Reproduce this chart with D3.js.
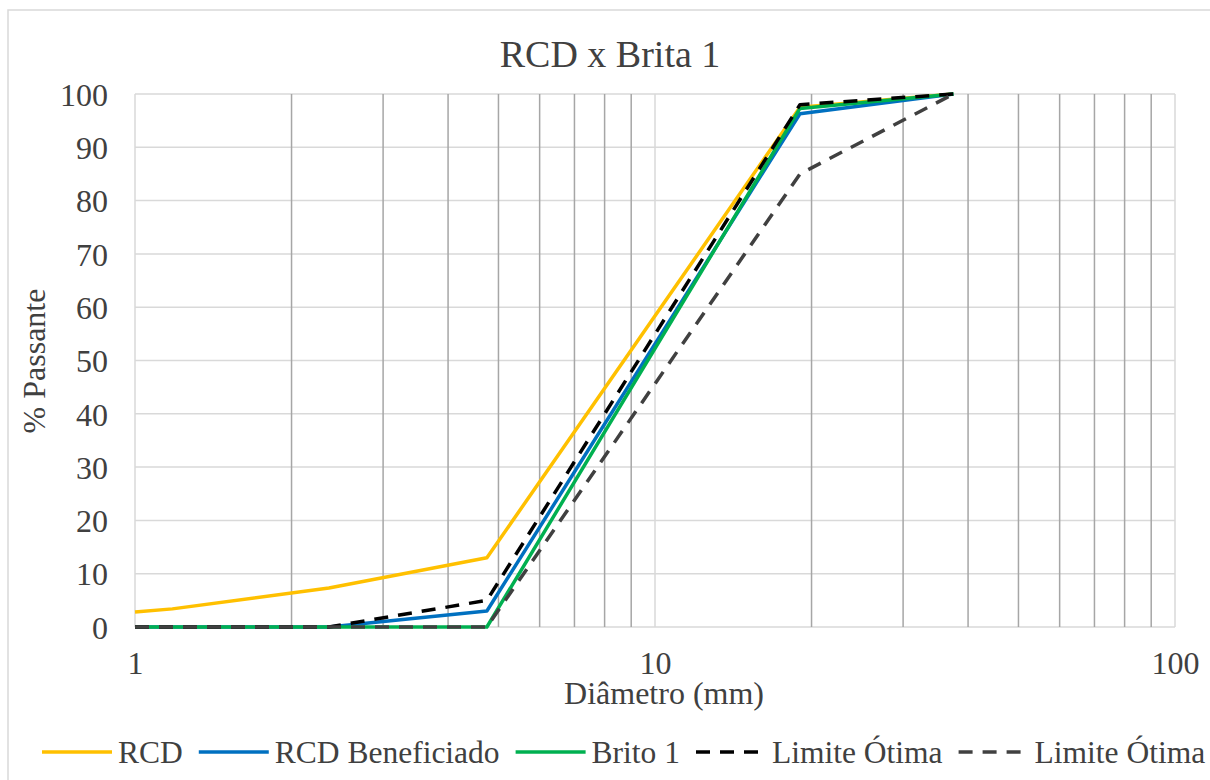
<!DOCTYPE html>
<html>
<head>
<meta charset="utf-8">
<script src="https://cdn.jsdelivr.net/npm/d3@7"></script>
<style>
  body { margin: 0; background: #fff; }
  #chart text { font-family: "Liberation Serif", "Times New Roman", serif; }
</style>
</head>
<body>
<svg id="chart" width="1210" height="780"></svg>
<script>
// sieve sizes (mm) and % passing
const diametros = [1, 1.18, 2.36, 4.75, 19, 37.5]
const rcd = [2.8, 3.4, 7.3, 13, 97.5, 100]
const rcdBeneficiado = [0, 0, 0, 3, 96.3, 100]
const brito1 = [0, 0, 0, 0, 97.3, 100]
const limiteSup = [0, 0, 0, 5, 98, 100]
const limiteInf = [0, 0, 0, 0, 85, 100]

const xTicks = [1, 10, 100]
const xMinor = [2, 3, 4, 5, 6, 7, 8, 9, 20, 30, 40, 50, 60, 70, 80, 90]
const yTicks = [0, 10, 20, 30, 40, 50, 60, 70, 80, 90, 100]

const series = [
  { name: 'RCD', values: rcd, color: '#FFC000', dash: null },
  { name: 'RCD Beneficiado', values: rcdBeneficiado, color: '#0070C0', dash: null },
  { name: 'Brito 1', values: brito1, color: '#00B050', dash: null },
  { name: 'Limite Ótima', values: limiteSup, color: '#000000', dash: '14,10' },
  { name: 'Limite Ótima', values: limiteInf, color: '#404040', dash: '14,10' }
]

const FONT = 'Liberation Serif'
const textColor = '#404040'

const svg = d3.select('#chart')

// chart frame
svg.append('rect')
  .attr('x', 8).attr('y', 10)
  .attr('width', 1210).attr('height', 780)
  .attr('fill', 'none')
  .attr('stroke', '#d9d9d9')
  .attr('stroke-width', 1.5)

const xScale = d3.scaleLog().domain([1, 100]).range([135, 1175])
const yScale = d3.scaleLinear().domain([0, 100]).range([627, 94])

const grid = svg.append('g')

grid.selectAll('.hgrid')
  .data(yTicks)
  .join('line')
  .attr('class', 'hgrid')
  .attr('x1', xScale(1)).attr('x2', xScale(100))
  .attr('y1', d => yScale(d)).attr('y2', d => yScale(d))
  .attr('stroke', '#d9d9d9')
  .attr('stroke-width', 1.5)

grid.selectAll('.vminor')
  .data(xMinor)
  .join('line')
  .attr('class', 'vminor')
  .attr('x1', d => xScale(d)).attr('x2', d => xScale(d))
  .attr('y1', yScale(0)).attr('y2', yScale(100))
  .attr('stroke', '#a6a6a6')
  .attr('stroke-width', 1.5)

grid.selectAll('.vmajor')
  .data(xTicks)
  .join('line')
  .attr('class', 'vmajor')
  .attr('x1', d => xScale(d)).attr('x2', d => xScale(d))
  .attr('y1', yScale(0)).attr('y2', yScale(100))
  .attr('stroke', '#d9d9d9')
  .attr('stroke-width', 1.5)

// axes
const xAxis = d3.axisBottom(xScale)
  .tickValues(xTicks)
  .tickSize(0)
  .tickPadding(0)
  .tickFormat(d3.format('d'))

const gx = svg.append('g')
  .attr('transform', 'translate(0,652)')
  .call(xAxis)
  .attr('font-family', FONT)
gx.select('.domain').remove()
gx.selectAll('text')
  .attr('fill', textColor)
  .attr('font-size', 32)
  .attr('dy', '0.68em')

const yAxis = d3.axisLeft(yScale)
  .tickValues(yTicks)
  .tickSize(0)
  .tickPadding(27)

const gy = svg.append('g')
  .attr('transform', `translate(${xScale(1)},0)`)
  .call(yAxis)
  .attr('font-family', FONT)
gy.select('.domain').remove()
gy.selectAll('text')
  .attr('fill', textColor)
  .attr('font-size', 32)
  .attr('dy', '0.35em')

// series lines
const line = d3.line()
  .x(d => xScale(d[0]))
  .y(d => yScale(d[1]))

svg.append('g')
  .selectAll('path')
  .data(series)
  .join('path')
  .attr('d', s => line(diametros.map((x, i) => [x, s.values[i]])))
  .attr('fill', 'none')
  .attr('stroke', s => s.color)
  .attr('stroke-width', 3.5)
  .attr('stroke-linejoin', 'round')
  .attr('stroke-dasharray', s => s.dash)

// titles
svg.append('text')
  .attr('x', 610).attr('y', 67)
  .attr('text-anchor', 'middle')
  .attr('font-size', 38)
  .attr('fill', textColor)
  .text('RCD x Brita 1')

svg.append('text')
  .attr('x', 664).attr('y', 704)
  .attr('text-anchor', 'middle')
  .attr('font-size', 32)
  .attr('fill', textColor)
  .text('Diâmetro (mm)')

svg.append('text')
  .attr('transform', 'translate(45,361) rotate(-90)')
  .attr('text-anchor', 'middle')
  .attr('font-size', 32)
  .attr('fill', textColor)
  .text('% Passante')

// legend
const legend = svg.append('g')
let lx = 42
series.forEach(s => {
  const item = legend.append('g')
  item.append('line')
    .attr('x1', lx).attr('x2', lx + 70)
    .attr('y1', 752).attr('y2', 752)
    .attr('stroke', s.color)
    .attr('stroke-width', 3.5)
    .attr('stroke-dasharray', s.dash)
  const t = item.append('text')
    .attr('x', lx + 76).attr('y', 763)
    .attr('font-size', 31.5)
    .attr('fill', textColor)
    .text(s.name)
  lx += 76 + t.node().getComputedTextLength() + 16
})
</script>
</body>
</html>
